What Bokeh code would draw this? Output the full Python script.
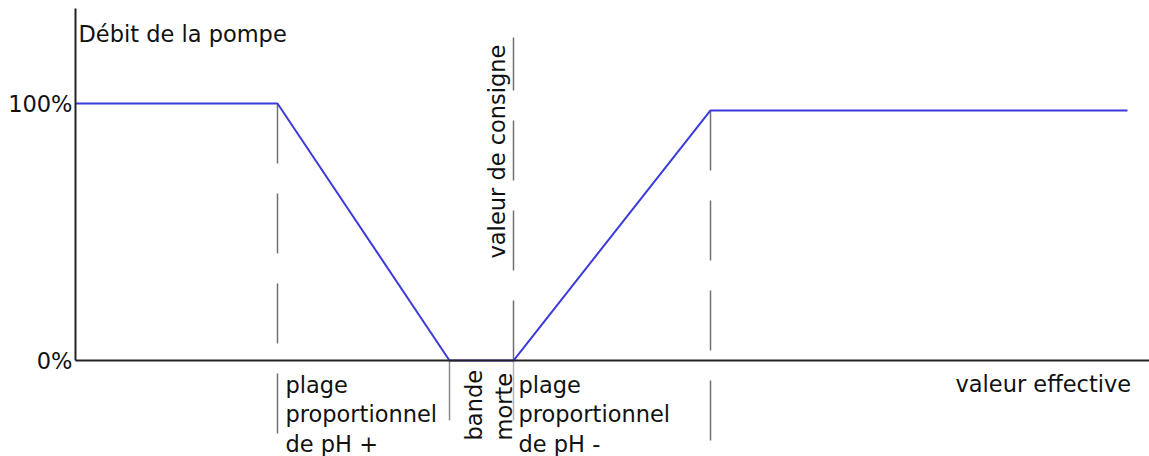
import math
from bokeh.plotting import figure
from bokeh.models import Range1d, LinearAxis, FixedTicker
from bokeh.core.properties import value
from bokeh.embed import file_html
from bokeh.resources import INLINE

# ---- data (schematic units: x arbitrary, y = pump flow in %) ----
curve_x = [0, 20.2, 37.4, 43.8, 63.5, 105.2]
curve_y = [100, 100, 0, 0, 97.3, 97.3]

y_ticks = [0, 100]
y_tick_labels = ["0%", "100%"]

# dashed guides, drawn from top down
guide_x = [20.2, 63.5]
guide_top = [100, 97.3]
guide_bottom = [-28.4, -31.1]

# set-point guide, drawn from the axis upward
setpoint_x = [43.8]
setpoint_bottom = [0]
setpoint_top = [125.7]

# short solid marks under the axis (dead band limits)
band_x = [37.4, 43.8]
band_top = [0, 0]
band_bottom = [-23.3, -23.3]
band_colors = ["#8a8a8a", "#b5b5b5"]

title_text = "Débit de la pompe"
xlabel_text = "valeur effective"
setpoint_text = "valeur de consigne"
deadband_words = ["bande", "morte"]
left_lines = ["plage", "proportionnel", "de pH +"]
right_lines = ["plage", "proportionnel", "de pH -"]

FONT = value("DejaVu Sans")
FS = "22.5px"

p = figure(width=1149, height=456, output_backend="svg", toolbar_location=None,
           x_range=Range1d(-7.5, 107.4), y_range=Range1d(-37.35, 140.08),
           x_axis_type=None, y_axis_type=None, min_border=0)
p.outline_line_color = None
p.background_fill_color = "white"
p.border_fill_color = "white"

# guides
p.segment(x0=guide_x, y0=guide_top, x1=guide_x, y1=guide_bottom,
          line_color="#707070", line_width=1.5, line_dash="60 30")
p.segment(x0=setpoint_x, y0=setpoint_bottom, x1=setpoint_x, y1=setpoint_top,
          line_color="#707070", line_width=1.5, line_dash="60 30")
p.segment(x0=band_x, y0=band_top, x1=band_x, y1=band_bottom,
          line_color=band_colors, line_width=1.5)

# pump flow curve
p.line(curve_x, curve_y, line_color="#3b3bdb", line_width=2)

# axes at fixed positions
yaxis = LinearAxis(fixed_location=0, bounds=(0, 136.96),
                   ticker=FixedTicker(ticks=y_ticks),
                   major_label_overrides={t: l for t, l in zip(y_ticks, y_tick_labels)})
yaxis.axis_line_color = "#222222"
yaxis.axis_line_width = 2
yaxis.major_tick_out = 0
yaxis.major_tick_in = 0
yaxis.minor_tick_out = 0
yaxis.minor_tick_in = 0
yaxis.major_label_standoff = 3
yaxis.major_label_text_font = "DejaVu Sans"
yaxis.major_label_text_font_size = FS
yaxis.major_label_text_color = "#111111"
p.add_layout(yaxis, "left")

xaxis = LinearAxis(fixed_location=0, bounds=(0, 107.4), ticker=FixedTicker(ticks=[]))
xaxis.axis_line_color = "#222222"
xaxis.axis_line_width = 2
xaxis.major_tick_out = 0
xaxis.major_tick_in = 0
xaxis.minor_tick_out = 0
xaxis.minor_tick_in = 0
xaxis.major_label_text_font_size = "0px"
p.add_layout(xaxis, "below")

common = dict(text_font=FONT, text_font_size=FS, text_color="#111111",
              text_baseline="alphabetic", text_align="left")

p.text(x=[0.3], y=[127.2], text=[title_text], **common)
p.text(x=[88.0], y=[-8.95], text=[xlabel_text], **common)
p.text(x=[42.1], y=[39.7], text=[setpoint_text], angle=math.pi / 2, **common)
p.text(x=[39.8, 42.8], y=[-31.1, -31.1], text=deadband_words, angle=math.pi / 2, **common)

line_y = [-9.34, -20.62, -32.3]
p.text(x=[21.0] * 3, y=line_y, text=left_lines, **common)
p.text(x=[44.3] * 3, y=line_y, text=right_lines, **common)

open("out.html", "w").write(file_html(p, INLINE))
